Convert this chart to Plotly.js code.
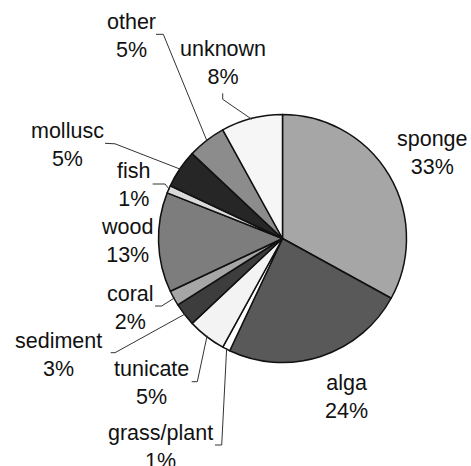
<!DOCTYPE html>
<html>
<head>
<meta charset="utf-8">
<script src="https://cdn.plot.ly/plotly-3.0.1.min.js"></script>
<style>
  html, body { margin: 0; padding: 0; background: #ffffff; }
  #chart { width: 471px; height: 466px; }
</style>
</head>
<body>
<div id="chart"></div>
<script>
// Food sources, share of records (%), clockwise from 12 o'clock
const categories = ['sponge', 'alga', 'grass/plant', 'tunicate', 'sediment', 'coral',
                    'wood', 'fish', 'mollusc', 'other', 'unknown'];
const shares = [33, 24, 1, 5, 3, 2, 13, 1, 5, 5, 8];
const sliceColors = ['#a6a6a6', '#595959', '#ffffff', '#f3f3f3', '#3d3d3d', '#a6a6a6',
                     '#7d7d7d', '#d9d9d9', '#262626', '#8c8c8c', '#f6f6f6'];

// Page geometry (pixels)
const W = 471, H = 466;
const CX = 282.5, CY = 238.5, R = 124;

// Label block centres, pixels
const labelPos = [
  [432, 153], [346, 397], [160, 447], [151, 382.5], [58, 354.5], [130, 307.5],
  [126.5, 241], [133, 185], [67, 144.5], [131, 36.5], [223, 63]
];
// Leader line start and elbow near each label (null: label sits beside its slice)
const leaderPts = [
  null, null,
  [[215, 445], [221.7, 445]],
  [[191.7, 381.7], [197.3, 381.7]],
  [[110.7, 352.7], [115, 352.7]],
  [[155, 306], [161.7, 306]],
  null,
  [[152.7, 184], [165, 184]],
  [[105, 143.3], [115, 143.8]],
  [[156, 34.3], [163.3, 34.3]],
  [[222.7, 93.3], [222.7, 99.3]]
];

const px = x => x / W;
const py = y => 1 - y / H;

const total = shares.reduce((a, b) => a + b, 0);
let cum = 0;
const shapes = [];
const annotations = [];
categories.forEach((cat, i) => {
  const mid = (cum + shares[i] / 2) / total * 2 * Math.PI;
  cum += shares[i];
  const ex = CX + (R - 1) * Math.sin(mid);
  const ey = CY - (R - 1) * Math.cos(mid);
  const lp = leaderPts[i];
  if (lp) {
    shapes.push({
      type: 'path', xref: 'paper', yref: 'paper',
      path: `M ${px(lp[0][0])},${py(lp[0][1])} L ${px(lp[1][0])},${py(lp[1][1])} L ${px(ex)},${py(ey)}`,
      line: { color: '#333333', width: 1 }
    });
  }
  annotations.push({
    xref: 'paper', yref: 'paper',
    x: px(labelPos[i][0]), y: py(labelPos[i][1]),
    xanchor: 'center', yanchor: 'middle', align: 'center',
    showarrow: false,
    text: `${cat}<br>${shares[i]}%`,
    font: { family: 'Liberation Sans, Arial, sans-serif', size: 21.5, color: '#111111' }
  });
});

const trace = {
  type: 'pie',
  labels: categories,
  values: shares,
  sort: false,
  direction: 'clockwise',
  rotation: 0,
  textinfo: 'none',
  hoverinfo: 'label+percent',
  marker: { colors: sliceColors, line: { color: '#111111', width: 1.5 } },
  domain: { x: [(CX - R) / W, (CX + R) / W], y: [(H - CY - R) / H, (H - CY + R) / H] }
};

const layout = {
  width: W, height: H,
  margin: { l: 0, r: 0, t: 0, b: 0 },
  showlegend: false,
  paper_bgcolor: '#ffffff',
  shapes: shapes,
  annotations: annotations
};

Plotly.newPlot('chart', [trace], layout, { staticPlot: true, displayModeBar: false });
</script>
</body>
</html>
